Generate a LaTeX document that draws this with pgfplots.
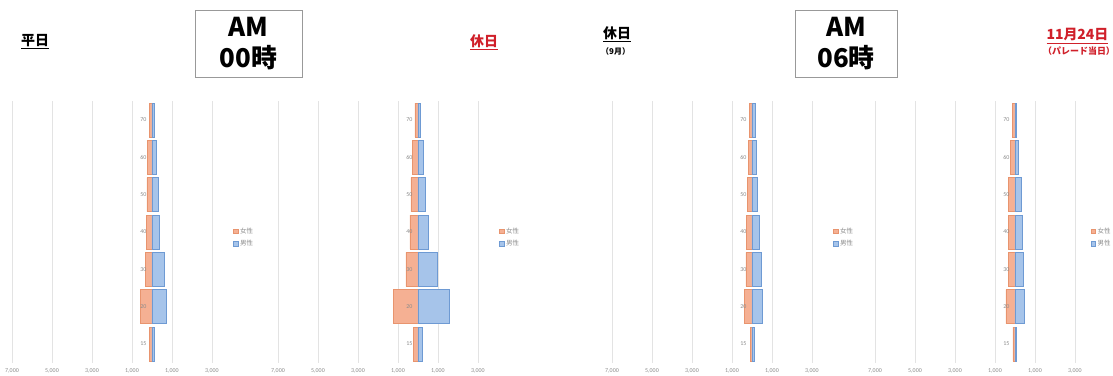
\documentclass[border=0pt]{standalone}
\usepackage{pgfplots}
\usepackage{pgfplotstable}
\pgfplotsset{compat=1.18}
\usepackage{fontspec}
\setmainfont{Carlito}
\newfontfamily\jp{Noto Sans CJK JP}
\definecolor{fem}{HTML}{F5B093}
\definecolor{femd}{HTML}{E8946E}
\definecolor{mal}{HTML}{A6C4EA}
\definecolor{mald}{HTML}{6E9AD3}
\definecolor{gridc}{HTML}{E3E3E3}
\definecolor{lab}{HTML}{8C8C8C}
\definecolor{redt}{HTML}{D0202A}
\pgfplotsset{
  pyrbase/.style={
  x=0.02bp, y=37.33bp,
  xmin=-7000, xmax=4000, ymin=-0.5, ymax=6.5,
  axis line style={draw=none},
  tick style={draw=none},
  ticklabel style={font=\fontsize{6}{7}\selectfont, text=lab},
  },
  pyr/.style={pyrbase,
  xtick={-7000,-5000,-3000,-1000,1000,3000},
  xticklabels={{7,000},{5,000},{3,000},{1,000},{1,000},{3,000}},
  xmajorgrids, grid style={gridc, line width=0.6bp},
  ytick=\empty,
  xticklabel style={yshift=-2.5bp},
  xbar, bar width=34bp, bar shift=0pt,
  legend style={at={(1,0.48)}, anchor=west, draw=none, fill=none,
    font=\jp\fontsize{6.5}{7.5}\selectfont, text=lab, row sep=1.5bp, inner sep=1bp},
  legend image code/.code={\draw[##1, line width=0.3bp] (0bp,-2.3bp) rectangle (4.6bp,2.3bp);},
  legend cell align=left,
  },
  pyrlab/.style={pyrbase,
  xtick=\empty,
  ytick={0,...,6},
  yticklabels={15,20,30,40,50,60,70},
  yticklabel style={xshift=138bp},
  },
}
\pgfplotstableread{
y F M
0 -115 135
1 -565 735
2 -335 635
3 -285 385
4 -250 315
5 -235 235
6 -120 100
}\tA
\pgfplotstableread{
y F M
0 -235 215
1 -1235 1565
2 -600 985
3 -400 500
4 -350 385
5 -285 265
6 -150 115
}\tB
\pgfplotstableread{
y F M
0 -85 115
1 -365 515
2 -300 450
3 -265 365
4 -215 265
5 -185 215
6 -135 150
}\tC
\pgfplotstableread{
y F M
0 -100 65
1 -450 485
2 -335 400
3 -335 350
4 -315 300
5 -235 185
6 -135 85
}\tD
\begin{document}
\begin{tikzpicture}
\useasboundingbox (0,0) rectangle (1113bp,376bp);
\clip (0,0) rectangle (1113bp,376bp);
\fill[white] (0,0) rectangle (1113bp,376bp);
\begin{axis}[pyr, at={(12bp,13.3bp)}, anchor=south west]
\addplot[fill=fem, draw=femd, line width=0.5bp] table[x=F,y=y]{\tA};
\addplot[fill=mal, draw=mald, line width=0.5bp] table[x=M,y=y]{\tA};
\legend{女性,男性}
\end{axis}
\begin{axis}[pyrlab, at={(12bp,13.3bp)}, anchor=south west]
\end{axis}
\begin{axis}[pyr, at={(278bp,13.3bp)}, anchor=south west]
\addplot[fill=fem, draw=femd, line width=0.5bp] table[x=F,y=y]{\tB};
\addplot[fill=mal, draw=mald, line width=0.5bp] table[x=M,y=y]{\tB};
\legend{女性,男性}
\end{axis}
\begin{axis}[pyrlab, at={(278bp,13.3bp)}, anchor=south west]
\end{axis}
\begin{axis}[pyr, at={(612bp,13.3bp)}, anchor=south west]
\addplot[fill=fem, draw=femd, line width=0.5bp] table[x=F,y=y]{\tC};
\addplot[fill=mal, draw=mald, line width=0.5bp] table[x=M,y=y]{\tC};
\legend{女性,男性}
\end{axis}
\begin{axis}[pyrlab, at={(612bp,13.3bp)}, anchor=south west]
\end{axis}
\begin{axis}[pyr, at={(875bp,13.3bp)}, anchor=south west, legend style={at={(0.975,0.48)}}]
\addplot[fill=fem, draw=femd, line width=0.5bp] table[x=F,y=y]{\tD};
\addplot[fill=mal, draw=mald, line width=0.5bp] table[x=M,y=y]{\tD};
\legend{女性,男性}
\end{axis}
\begin{axis}[pyrlab, at={(875bp,13.3bp)}, anchor=south west]
\end{axis}
% titles
\node[font=\jp\bfseries\fontsize{14}{16}\selectfont] at (35bp,334bp) {\underline{平日}};
\node[draw=gray!80, line width=0.8bp, minimum width=107bp, minimum height=67bp, inner sep=0] at (248.5bp,332.5bp) {};
\node[font=\jp\bfseries\fontsize{26}{28}\selectfont] at (248.5bp,349bp) {AM};
\node[font=\jp\bfseries\fontsize{26}{28}\selectfont] at (248.5bp,318bp) {00時};
\node[font=\jp\bfseries\fontsize{14}{16}\selectfont, text=redt] at (484bp,334bp) {\underline{休日}};
\node[font=\jp\bfseries\fontsize{14}{16}\selectfont] at (617bp,342bp) {\underline{休日}};
\node[font=\jp\bfseries\fontsize{8}{9}\selectfont, anchor=west, inner sep=0] at (601bp,325bp) {（9月）};
\node[draw=gray!80, line width=0.8bp, minimum width=102bp, minimum height=67bp, inner sep=0] at (846bp,332.5bp) {};
\node[font=\jp\bfseries\fontsize{26}{28}\selectfont] at (846bp,349bp) {AM};
\node[font=\jp\bfseries\fontsize{26}{28}\selectfont] at (846bp,318bp) {06時};
\node[font=\jp\bfseries\fontsize{14}{16}\selectfont, text=redt, anchor=west] at (1043bp,340bp) {\underline{11月24日}};
\node[font=\jp\bfseries\fontsize{9}{10}\selectfont, text=redt, anchor=west, inner sep=0] at (1043bp,325bp) {（パレード当日）};
\end{tikzpicture}
\end{document}
